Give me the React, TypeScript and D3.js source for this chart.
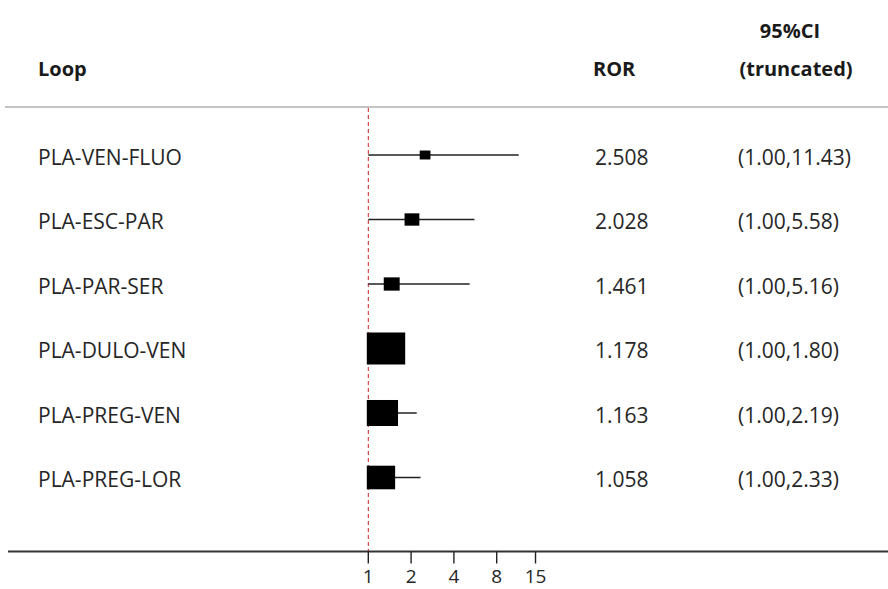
import React from "react";
import * as d3 from "d3";

const loops = ["PLA-VEN-FLUO", "PLA-ESC-PAR", "PLA-PAR-SER", "PLA-DULO-VEN", "PLA-PREG-VEN", "PLA-PREG-LOR"];
const ror = [2.508, 2.028, 1.461, 1.178, 1.163, 1.058];
const ciLow = [1.0, 1.0, 1.0, 1.0, 1.0, 1.0];
const ciHigh = [11.43, 5.58, 5.16, 1.8, 2.19, 2.33];
const weights = [3.0, 5.7, 6.6, 38.4, 25.4, 20.9];
const xTicks = [1, 2, 4, 8, 15];
const headers = { loop: "Loop", ror: "ROR", ci1: "95%CI", ci2: "(truncated)" };

const W = 888;
const H = 589;
const FONT = "'Open Sans', 'DejaVu Sans', sans-serif";

export default function App() {
  const x = d3.scaleLog().base(2).domain([1, 16]).range([368.3, 539.5]);
  const y = d3.scaleLinear().domain([0, loops.length - 1]).range([155, 477.5]);
  const hScale = d3.scaleSqrt().domain([0, 38.4]).range([0, 32]);
  const axisY = 551.5;
  const headerLineY = 107;

  return (
    <svg
      width={W}
      height={H}
      style={{ position: "absolute", left: 0, top: 0, background: "#fff" }}
      fontFamily={FONT}
    >
      {/* headers */}
      <g fontWeight={700} fontSize={20} fill="#1a1a1a">
        <text x={593} y={76}>{headers.ror}</text>
        <text x={38} y={76}>{headers.loop}</text>
        <text x={790} y={38} textAnchor="middle">{headers.ci1}</text>
        <text x={796} y={76} textAnchor="middle">{headers.ci2}</text>
      </g>
      <line x1={5} x2={W} y1={headerLineY} y2={headerLineY} stroke="#c4c4c4" strokeWidth={2} />

      {/* reference line */}
      <line
        x1={x(1)}
        x2={x(1)}
        y1={headerLineY + 1}
        y2={axisY}
        stroke="#d0231f"
        strokeWidth={1}
        strokeDasharray="4,3"
      />

      {/* rows */}
      {loops.map((name, i) => {
        const cy = y(i);
        const h = hScale(weights[i]);
        const w = h * 1.2;
        const bx = Math.max(x(ciLow[i]) - 1.5, x(ror[i]) - w / 2);
        return (
          <g key={name}>
            <text x={38} y={cy + 1.5} dominantBaseline="central" fontSize={21} fill="#262626">
              {name}
            </text>
            <line x1={x(ciLow[i])} x2={x(ciHigh[i])} y1={cy} y2={cy} stroke="#222" strokeWidth={1.4} />
            <rect x={bx} y={cy - h / 2} width={w} height={h} fill="#000" />
            <text x={595} y={cy + 1.5} dominantBaseline="central" fontSize={21} fill="#262626">
              {ror[i].toFixed(3)}
            </text>
            <text x={738} y={cy + 1.5} dominantBaseline="central" fontSize={21} fill="#262626">
              {`(${ciLow[i].toFixed(2)},${ciHigh[i].toFixed(2)})`}
            </text>
          </g>
        );
      })}

      {/* x axis */}
      <line x1={8} x2={W} y1={axisY} y2={axisY} stroke="#333" strokeWidth={1.8} />
      {xTicks.map((t) => (
        <g key={t}>
          <line x1={x(t)} x2={x(t)} y1={axisY} y2={axisY + 12} stroke="#222" strokeWidth={1.4} />
          <text x={x(t)} y={583} textAnchor="middle" fontSize={19} fill="#262626">
            {t}
          </text>
        </g>
      ))}
    </svg>
  );
}
